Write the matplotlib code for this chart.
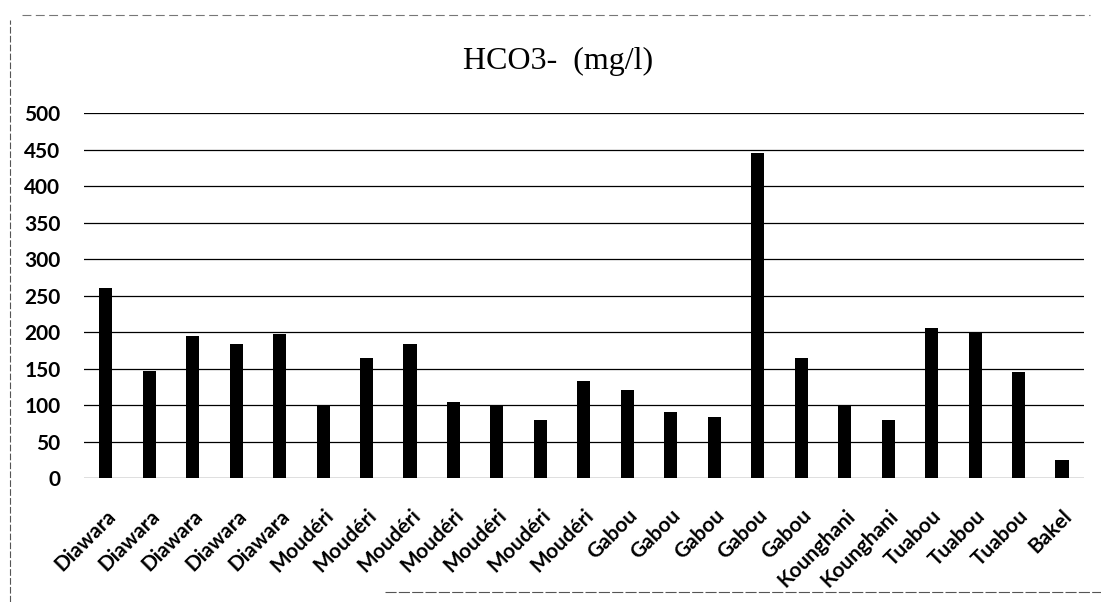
import matplotlib
matplotlib.use('Agg')
import matplotlib.pyplot as plt
from matplotlib.lines import Line2D
from matplotlib import transforms

stations = ['Diawara', 'Diawara', 'Diawara', 'Diawara', 'Diawara',
            'Moudéri', 'Moudéri', 'Moudéri', 'Moudéri', 'Moudéri', 'Moudéri', 'Moudéri',
            'Gabou', 'Gabou', 'Gabou', 'Gabou', 'Gabou',
            'Kounghani', 'Kounghani',
            'Tuabou', 'Tuabou', 'Tuabou',
            'Bakel']
hco3 = [260, 146, 195, 184, 197,
        100, 165, 183, 104, 98, 79, 133,
        121, 91, 84, 445, 165,
        98, 79,
        205, 199, 145,
        24]
yticks = [0, 50, 100, 150, 200, 250, 300, 350, 400, 450, 500]

fig = plt.figure(figsize=(11.01, 6.02), dpi=100)
ax = fig.add_axes([0.0763, 0.206, 0.908, 0.606])

x = range(len(hco3))
ax.bar(x, hco3, width=0.3, color='black', zorder=3)

ax.set_xlim(-0.5, len(hco3) - 0.5)
ax.set_ylim(0, 500)
ax.set_yticks(yticks)
ax.set_yticklabels([str(v) for v in yticks], fontsize=15, fontweight='bold', family='Lato')
ax.set_xticks(list(x))
ax.set_xticklabels(stations, rotation=45, ha='right', rotation_mode='anchor',
                   fontsize=15, fontweight='bold', family='Lato')
shift = transforms.ScaledTranslation(0.07, 0, fig.dpi_scale_trans)
for lbl in ax.get_xticklabels():
    lbl.set_transform(lbl.get_transform() + shift)

ax.tick_params(axis='both', length=0)
ax.tick_params(axis='y', pad=17)
ax.tick_params(axis='x', pad=20)
ax.grid(axis='y', color='black', linewidth=0.9, zorder=0)
for s in ax.spines.values():
    s.set_visible(False)

fig.text(0.507, 0.898, 'HCO3-  (mg/l)', ha='center', va='center',
         fontsize=23, family='Liberation Serif')

# scanned frame around the chart
fig.add_artist(Line2D([0.009, 0.009], [0.0, 0.967], transform=fig.transFigure,
                      color='#555555', linewidth=0.8, linestyle=(0, (6, 2))))
fig.add_artist(Line2D([0.02, 0.99], [0.975, 0.975], transform=fig.transFigure,
                      color='#777777', linewidth=0.8, linestyle=(0, (8, 4))))
fig.add_artist(Line2D([0.35, 1.0], [0.016, 0.016], transform=fig.transFigure,
                      color='#555555', linewidth=0.8, linestyle=(0, (10, 2))))

fig.savefig('out.png', dpi=100)
